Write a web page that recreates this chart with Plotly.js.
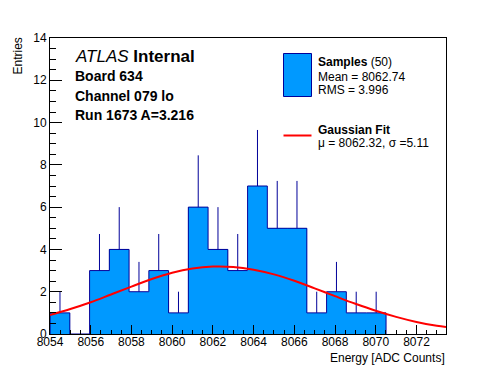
<!DOCTYPE html>
<html>
<head>
<meta charset="utf-8">
<script src="https://cdn.plot.ly/plotly-3.0.1.min.js"></script>
<style>html,body{margin:0;padding:0;background:#fff;}#chart{width:496px;height:372px;}</style>
</head>
<body>
<div id="chart"></div>
<script>
// Histogram bins (centers) and counts
const binCenters = [8054.49, 8055.46, 8056.43, 8057.40, 8058.37, 8059.34, 8060.31, 8061.28, 8062.25,
                    8063.22, 8064.19, 8065.16, 8066.13, 8067.10, 8068.07, 8069.04, 8070.02];
const binWidth = 0.9706;
const counts = [1, 0, 3, 4, 2, 3, 1, 6, 4, 3, 7, 5, 5, 1, 2, 1, 1];
const errUp = [1, 0, 1.73, 2, 1.41, 1.73, 1, 2.45, 2, 1.73, 2.65, 2.24, 2.24, 1, 1.41, 1, 1];

// Gaussian fit curve
const fitX = [8054, 8055, 8056, 8057, 8058, 8059, 8060, 8061, 8062, 8063, 8064, 8065, 8066, 8067,
              8068, 8069, 8070, 8071, 8072, 8073, 8073.45];
const fitY = [0.90, 1.18, 1.50, 1.87, 2.24, 2.60, 2.90, 3.10, 3.19, 3.17, 3.04, 2.82, 2.52, 2.16,
              1.79, 1.43, 1.10, 0.81, 0.57, 0.39, 0.33];

// Text content
const atlasLabel = "<i>ATLAS</i> <b>Internal</b>";
const infoLines = ["Board 634", "Channel 079 lo", "Run 1673 A=3.216"];
const legendSamples = ["<b>Samples</b> (50)", "Mean = 8062.74", "RMS = 3.996"];
const legendFit = ["<b>Gaussian Fit</b>", "\u03bc = 8062.32, \u03c3 =5.11"];

const FONT = "Liberation Sans, Arial, Helvetica, sans-serif";
const L = 50, R = 446, T = 38, B = 334;
const px = v => (v - L) / (R - L);
const py = v => (B - v) / (B - T);

// step outline
const edges = binCenters.map(c => c - binWidth / 2);
const stepX = [edges[0]].concat(edges, [binCenters[binCenters.length - 1] + binWidth / 2]);
const stepY = [0].concat(counts, [0]);

const traces = [
  {type: 'bar', x: binCenters, y: counts, width: binWidth, marker: {color: '#0099ff', line: {width: 0}},
   hoverinfo: 'skip', showlegend: false},
  {type: 'scatter', mode: 'lines', x: stepX, y: stepY, line: {shape: 'hv', color: '#000099', width: 1},
   hoverinfo: 'skip', showlegend: false},
  {type: 'scatter', mode: 'markers', x: binCenters, y: counts, marker: {size: 0, opacity: 0},
   error_y: {type: 'data', symmetric: false, array: errUp, arrayminus: counts.map(() => 0),
             color: '#000099', thickness: 1, width: 0},
   hoverinfo: 'skip', showlegend: false},
  {type: 'scatter', mode: 'lines', x: fitX, y: fitY, line: {shape: 'spline', color: '#ff0000', width: 2},
   hoverinfo: 'skip', showlegend: false}
];

const ann = [];
ann.push({text: atlasLabel, x: px(73), y: py(57), xanchor: 'left', yanchor: 'middle',
          font: {family: FONT, size: 17, color: '#000'}});
const infoY = [76, 96, 115];
infoLines.forEach((t, i) => ann.push({text: '<b>' + t + '</b>', x: px(73), y: py(infoY[i]),
  xanchor: 'left', yanchor: 'middle', font: {family: FONT, size: 14, color: '#000'}}));
const sampY = [62, 76.5, 90];
legendSamples.forEach((t, i) => ann.push({text: t, x: px(316), y: py(sampY[i]),
  xanchor: 'left', yanchor: 'middle', font: {family: FONT, size: 12, color: '#000'}}));
const fitTY = [129.5, 142.5];
legendFit.forEach((t, i) => ann.push({text: t, x: px(316), y: py(fitTY[i]),
  xanchor: 'left', yanchor: 'middle', font: {family: FONT, size: 12, color: '#000'}}));
ann.push({text: 'Entries', textangle: -90, x: px(18), y: py(36), xanchor: 'center', yanchor: 'top',
          font: {family: FONT, size: 12, color: '#000'}});
ann.push({text: 'Energy [ADC Counts]', x: px(447), y: py(358), xanchor: 'right', yanchor: 'middle',
          font: {family: FONT, size: 12, color: '#000'}});
ann.forEach(a => { a.xref = 'paper'; a.yref = 'paper'; a.showarrow = false; });

const shapes = [
  {type: 'rect', xref: 'paper', yref: 'paper', x0: px(283.5), x1: px(311.5), y0: py(96.5), y1: py(53.5),
   fillcolor: '#0099ff', line: {color: '#000099', width: 1}},
  {type: 'line', xref: 'paper', yref: 'paper', x0: px(283.5), x1: px(311.5), y0: py(135.5), y1: py(135.5),
   line: {color: '#ff0000', width: 2}}
];

const layout = {
  width: 496, height: 372,
  margin: {l: L, r: 496 - R, t: T, b: 372 - B, pad: 0},
  paper_bgcolor: '#fff', plot_bgcolor: '#fff',
  font: {family: FONT, size: 12, color: '#000'},
  bargap: 0,
  xaxis: {range: [8054, 8073.45], tick0: 8054, dtick: 2, ticks: 'inside', ticklen: 9, tickwidth: 1,
          tickcolor: '#000', showline: true, linecolor: '#000', linewidth: 1, mirror: true,
          showgrid: false, zeroline: false, tickfont: {family: FONT, size: 12}, ticklabelstandoff: -3,
          minor: {dtick: 0.5, ticks: 'inside', ticklen: 4.5, tickwidth: 1, tickcolor: '#000', showgrid: false}},
  yaxis: {range: [0, 14], tick0: 0, dtick: 2, ticks: 'inside', ticklen: 12, tickwidth: 1,
          tickcolor: '#000', showline: true, linecolor: '#000', linewidth: 1, mirror: true,
          showgrid: false, zeroline: false, tickfont: {family: FONT, size: 12},
          minor: {dtick: 0.5, ticks: 'inside', ticklen: 6, tickwidth: 1, tickcolor: '#000', showgrid: false}},
  annotations: ann,
  shapes: shapes,
  showlegend: false
};

Plotly.newPlot('chart', traces, layout, {displayModeBar: false, staticPlot: true});
</script>
</body>
</html>
